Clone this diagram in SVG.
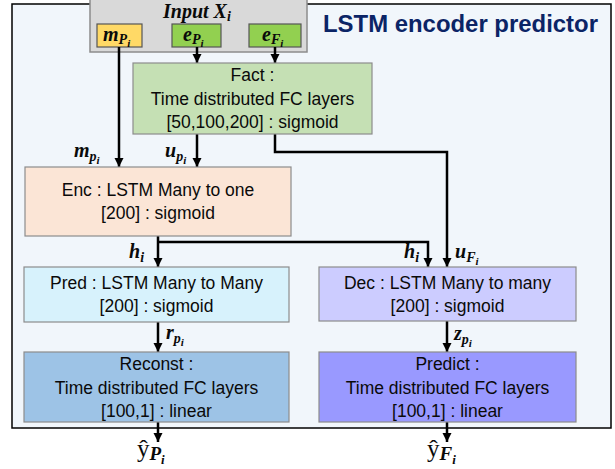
<svg xmlns="http://www.w3.org/2000/svg" width="615" height="469" viewBox="0 0 615 469">
<defs>
<marker id="ah" markerUnits="userSpaceOnUse" markerWidth="10" markerHeight="10" refX="9" refY="4.5" orient="auto">
<path d="M0,0 L9,4.5 L0,9 z" fill="#000"/>
</marker>
<style>
.box{stroke:#8c8c8c;stroke-width:1.2}
.t{font-family:"Liberation Sans",Arial,sans-serif;font-size:17.5px;fill:#0a0a0a;text-anchor:middle}
.m{font-family:"Liberation Serif","Times New Roman",serif;font-weight:bold;font-style:italic;font-size:20px;fill:#0a0a0a}
.s1{font-size:14px}
.s2{font-size:11px}
.ln{fill:none;stroke:#000;stroke-width:2.5}
.ar{marker-end:url(#ah)}
</style>
</defs>
<rect x="0" y="0" width="615" height="469" fill="#fff"/>
<g id="frame">
<rect x="12" y="4" width="599" height="424" fill="#f1f6fb" stroke="#000" stroke-width="1.5"/>
<text x="323" y="32" font-family="Liberation Sans,Arial,sans-serif" font-weight="bold" font-size="23px" fill="#0b2466" textLength="275" lengthAdjust="spacingAndGlyphs">LSTM encoder predictor</text>
</g>
<g id="input">
<rect x="90" y="-5" width="217" height="57" fill="#d9d9d9" stroke="#8c8c8c" stroke-width="1.5"/>
<text class="m" x="163" y="18" font-size="18px">Input X<tspan class="s1" dy="3">i</tspan></text>
</g>
<g id="mP">
<rect x="97" y="24" width="45" height="23" fill="#ffd966" stroke="#555" stroke-width="1.2"/>
<text class="m" x="103" y="41" font-size="18px">m<tspan class="s1" font-size="13px" dy="3">P</tspan><tspan class="s2" font-size="10px" dy="3">i</tspan></text>
</g>
<g id="eP">
<rect x="172" y="24" width="49" height="23" fill="#92d050" stroke="#555" stroke-width="1.2"/>
<text class="m" x="183" y="41" font-size="18px">e<tspan class="s1" font-size="13px" dy="3">P</tspan><tspan class="s2" font-size="10px" dy="3">i</tspan></text>
</g>
<g id="eF">
<rect x="249" y="24" width="52" height="23" fill="#92d050" stroke="#555" stroke-width="1.2"/>
<text class="m" x="262" y="41" font-size="18px">e<tspan class="s1" font-size="13px" dy="3">F</tspan><tspan class="s2" font-size="10px" dy="3">i</tspan></text>
</g>
<g id="connectors">
<path class="ln ar" d="M197,47 V63"/>
<path class="ln ar" d="M275,47 V63"/>
<path class="ln ar" d="M119,47 V167"/>
<path class="ln ar" d="M197,134 V167"/>
<path class="ln ar" d="M275,134 V152 H447 V267"/>
<path class="ln ar" d="M158,236 V267"/>
<path class="ln ar" d="M158,242 H428 V267"/>
<path class="ln ar" d="M158,322 V352"/>
<path class="ln ar" d="M447,321 V352"/>
<path class="ln ar" d="M158,422 V442"/>
<path class="ln ar" d="M447,422 V442"/>
<text class="m" x="74" y="157">m<tspan class="s1" dy="4">p</tspan><tspan class="s2" dy="3">i</tspan></text>
<text class="m" x="165" y="157">u<tspan class="s1" dy="4">p</tspan><tspan class="s2" dy="3">i</tspan></text>
<text class="m" x="129" y="258">h<tspan class="s1" dy="4">i</tspan></text>
<text class="m" x="404" y="258">h<tspan class="s1" dy="4">i</tspan></text>
<text class="m" x="455" y="258">u<tspan class="s1" dy="4">F</tspan><tspan class="s2" dy="3">i</tspan></text>
<text class="m" x="166" y="339">r<tspan class="s1" dy="4">p</tspan><tspan class="s2" dy="3">i</tspan></text>
<text class="m" x="454" y="340">z<tspan class="s1" dy="4">p</tspan><tspan class="s2" dy="3">i</tspan></text>
<text x="137" y="457" font-family="Liberation Serif,serif" font-size="25px" fill="#0a0a0a">ŷ<tspan font-weight="bold" font-style="italic" font-size="19px" dy="3">P</tspan><tspan font-weight="bold" font-style="italic" font-size="13px" dy="4">i</tspan></text>
<text x="427" y="457" font-family="Liberation Serif,serif" font-size="25px" fill="#0a0a0a">ŷ<tspan font-weight="bold" font-style="italic" font-size="19px" dy="3">F</tspan><tspan font-weight="bold" font-style="italic" font-size="13px" dy="4">i</tspan></text>
</g>
<g id="fact">
<rect class="box" x="133" y="63" width="239" height="71" fill="#c5e0b4"/>
<text class="t" x="252.5" y="81">Fact :</text>
<text class="t" x="252.5" y="105">Time distributed FC layers</text>
<text class="t" x="252.5" y="128">[50,100,200] : sigmoid</text>
</g>
<g id="enc">
<rect class="box" x="25" y="167" width="266" height="69" fill="#fbe5d6"/>
<text class="t" x="158" y="196">Enc : LSTM Many to one</text>
<text class="t" x="158" y="219">[200] : sigmoid</text>
</g>
<g id="pred">
<rect class="box" x="24" y="267" width="265" height="55" fill="#d7f2fc"/>
<text class="t" x="156.5" y="289">Pred : LSTM Many to Many</text>
<text class="t" x="156.5" y="312">[200] : sigmoid</text>
</g>
<g id="dec">
<rect class="box" x="319" y="267" width="257" height="54" fill="#ccccff"/>
<text class="t" x="447.5" y="289">Dec : LSTM Many to many</text>
<text class="t" x="447.5" y="312">[200] : sigmoid</text>
</g>
<g id="reconst">
<rect class="box" x="24" y="352" width="265" height="70" fill="#9dc3e6"/>
<text class="t" x="156.5" y="370">Reconst :</text>
<text class="t" x="156.5" y="394">Time distributed FC layers</text>
<text class="t" x="156.5" y="417">[100,1] : linear</text>
</g>
<g id="predict">
<rect class="box" x="319" y="352" width="257" height="70" fill="#9999ff"/>
<text class="t" x="447.5" y="370">Predict :</text>
<text class="t" x="447.5" y="394">Time distributed FC layers</text>
<text class="t" x="447.5" y="417">[100,1] : linear</text>
</g>
</svg>
